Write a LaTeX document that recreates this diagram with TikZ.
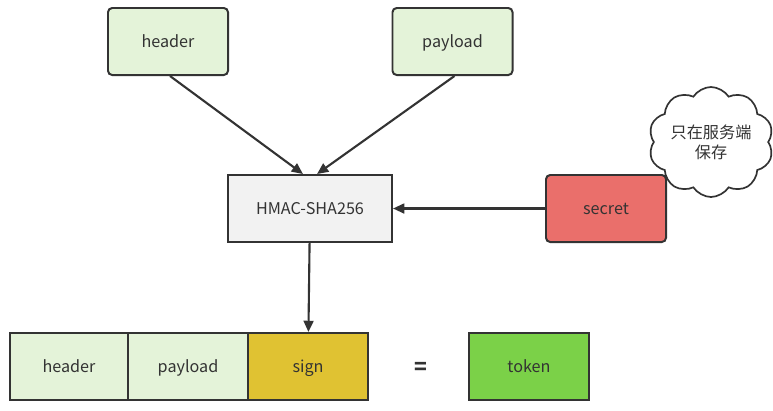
\documentclass[tikz,border=0pt]{standalone}
\usepackage{fontspec}
\setmainfont{Noto Sans CJK SC}
\usepackage{tikz}
\usetikzlibrary{arrows.meta,positioning,shapes.symbols}
\definecolor{lightgreen}{HTML}{E4F3D9}
\definecolor{lightgray}{HTML}{F2F2F2}
\definecolor{secretred}{HTML}{EA6F6B}
\definecolor{signyellow}{HTML}{E0C232}
\definecolor{tokengreen}{HTML}{7BD148}
\definecolor{edge}{HTML}{333333}

\begin{document}
\begin{tikzpicture}[x=0.025cm,y=0.025cm,>={Triangle[length=8pt,width=7pt]},
  every node/.style={font=\fontsize{11.5}{14}\selectfont,text=edge},
  box/.style={rectangle,draw=edge,line width=1.4pt,minimum width=3cm,minimum height=1.675cm,inner sep=0pt,text height=10.5pt,text depth=2.5pt},
  rbox/.style={box,rounded corners=3pt},
  link/.style={->,line width=1.5pt,draw=edge}]
  \useasboundingbox (0,0) rectangle (773,-410);
  \node[rbox,fill=lightgreen] (header) at (168,-41.5) {header};
  \node[rbox,fill=lightgreen] (payload) at (452.5,-41.5) {payload};
  \node[box,fill=lightgray,minimum width=4.1cm] (hmac) at (310,-208.5) {HMAC-SHA256};
  \node[rbox,fill=secretred] (secret) at (606,-208.5) {secret};
  \node[cloud,draw=edge,line width=1.2pt,fill=white,cloud puffs=10,cloud puff arc=115,aspect=1.2,minimum width=3.1cm,minimum height=2.4cm,inner sep=0pt,align=center] (note) at (711,-142) {只在服务端\\保存};
  \node[box,fill=lightgreen,minimum width=2.95cm] (sheader) at (69,-366.5) {header};
  \node[box,fill=lightgreen] (spayload) at (188,-366.5) {payload};
  \node[box,fill=signyellow] (sign) at (308,-366.5) {sign};
  \node[font=\fontsize{15}{17}\selectfont\bfseries] (equal) at (421,-368) {=};
  \node[box,fill=tokengreen] (token) at (529,-366.5) {token};
  \draw[link] (header.south) ++(2,0) -- ([xshift=-5pt]hmac.north);
  \draw[link] (payload.south) ++(2,0) -- ([xshift=5pt]hmac.north);
  \draw[link] (secret) -- (hmac);
  \draw[link] (hmac) -- (sign);
\end{tikzpicture}
\end{document}
